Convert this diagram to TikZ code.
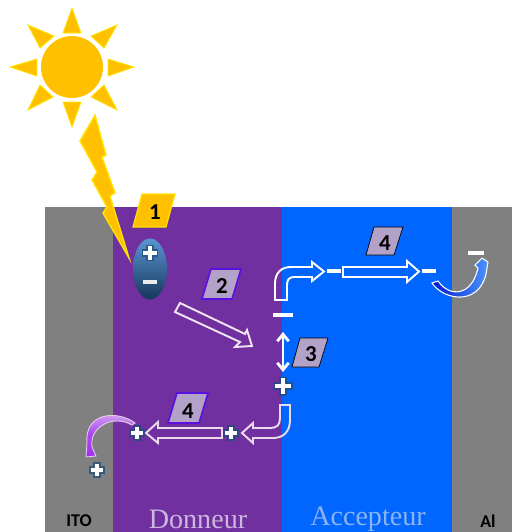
\documentclass[tikz,border=0pt]{standalone}
\usepackage{fontspec}
\usepackage{tikz}
\usetikzlibrary{shapes.geometric,arrows.meta}
\setmainfont{Liberation Serif}
\newfontfamily\labelfont[Ligatures=TeX]{Carlito}
\definecolor{sunyellow}{HTML}{FFC000}
\definecolor{donneurcol}{HTML}{7030A0}
\definecolor{accepteurcol}{HTML}{0066FF}
\definecolor{metalgray}{HTML}{808080}
\definecolor{badgegray}{HTML}{B3A2C7}
\definecolor{badgeedge}{HTML}{5A10E0}
\definecolor{glowcol}{HTML}{1F4E79}
\definecolor{ovaltop}{HTML}{5A96D2}
\definecolor{ovalmid}{HTML}{3F7FC0}
\definecolor{ovalbot}{HTML}{16365C}
\definecolor{paleviolet}{HTML}{D8B0F0}
\definecolor{brightviolet}{HTML}{A030F0}
\tikzset{
  ray/.style={fill=sunyellow,draw=yellow!75!sunyellow,line width=.5pt,line join=miter},
  bandlabel/.style={font=\fontsize{16}{16}\selectfont},
  metallabel/.style={font=\labelfont\bfseries\fontsize{10.2}{10}\selectfont,text=black},
  numlabel/.style={font=\labelfont\bfseries\fontsize{13}{13}\selectfont,text=black},
  blockarrow/.style={draw=white,line width=1.1pt,line join=miter},
  plainbadge/.style={fill=badgegray},
  edgebadge/.style={fill=badgegray,draw=badgeedge,line width=.9pt},
  chargeplus/.pic={
    \draw[glowcol,opacity=.75,line width=4.4pt] (-9.5,0) -- (9.5,0) (0,-9.5) -- (0,9.5);
    \draw[white,line width=1.9pt] (-8,0) -- (8,0) (0,-8) -- (0,8);
  },
  chargeminus/.pic={
    \draw[white,line width=2.1pt] (-10,0) -- (10,0);
  }
}
\begin{document}
\begin{tikzpicture}[x=0.02cm,y=-0.02cm]
  \useasboundingbox (0,0) rectangle (512,532);
  % bands
  \fill[metalgray] (45,207) rectangle (113,532);
  \fill[donneurcol] (113,207) rectangle (282,532);
  \fill[accepteurcol] (282,207) rectangle (452,532);
  \fill[metalgray] (452,207) rectangle (512,532);
  \node[metallabel] (ito) at (79,521) {ITO};
  \node[bandlabel,text=donneurcol!35!white] (donneur) at (198,519) {Donneur};
  \node[bandlabel,text=accepteurcol!45!white!90!gray] (accepteur) at (368,519) {Accepteur};
  \node[metallabel] (al) at (488,521) {Al};
  % sun
  \fill[sunyellow] (72,67) circle (31);
  \draw[ray] (72,8) -- (81,33) -- (63,33) -- cycle;
  \draw[ray] (72,127) -- (81,102) -- (63,102) -- cycle;
  \draw[ray] (10,67) -- (37,59) -- (37,76) -- cycle;
  \draw[ray] (134,67) -- (108,59) -- (108,76) -- cycle;
  \draw[ray] (28,25) -- (54,36) -- (40,48) -- cycle;
  \draw[ray] (117,25) -- (91,36) -- (104,48) -- cycle;
  \draw[ray] (28,110) -- (40,85) -- (53,97) -- cycle;
  \draw[ray] (117,110) -- (91,97) -- (104,85) -- cycle;
  % lightning
  \draw[ray,line width=.8pt] (95,115) -- (106,155) -- (102,157) -- (115,193) -- (110,196) -- (129,258) -- (103,213) -- (107,207) -- (92,180) -- (97,172) -- (80,141) -- cycle;
  % exciton
  \node[ellipse,minimum width=34*0.02cm,minimum height=61*0.02cm,inner sep=0pt,top color=ovaltop,middle color=ovalmid,bottom color=ovalbot] (exciton) at (150,269) {};
  \path (150,253) pic[scale=.85] {chargeplus};
  \draw[white!85!gray,line width=1.9pt] (143,282) -- (157,282);
  % badges
  \draw[fill=sunyellow,draw=yellow!70!sunyellow,line width=.7pt] (133,227) -- (142,194) -- (175,194) -- (166,227) -- cycle;
  \node[numlabel] (numa) at (155,212) {1};
  \draw[edgebadge] (202,299) -- (211,269) -- (241,269) -- (232,299) -- cycle;
  \node[numlabel] (numb) at (222,286) {2};
  \draw[plainbadge] (292,367) -- (300,338) -- (328,338) -- (319,367) -- cycle;
  \node[numlabel] (numc) at (311,354) {3};
  \draw[plainbadge] (366,255) -- (374,227) -- (403,227) -- (394,255) -- cycle;
  \node[numlabel] (numd) at (385,243) {4};
  \draw[edgebadge] (168,423) -- (177,393) -- (208,393) -- (199,423) -- cycle;
  \node[numlabel] (nume) at (188,411) {4};
  % diffusion arrow
  \draw[blockarrow,draw=white!90!violet] (175,312) -- (180,303) -- (245,334) -- (247,330) -- (252,346) -- (235,347) -- (240,342) -- cycle;
  % separation
  \draw[white,line width=1.6pt,{Straight Barb[length=4pt,width=6.5pt]}-{Straight Barb[length=4pt,width=6.5pt]}] (283,332) -- (283,372);
  % electron path
  \path (283,315) pic {chargeminus};
  \draw[blockarrow] (275,300) -- (275,284) .. controls (275,273) and (281,267) .. (291,267) -- (312,267) -- (312,262) -- (324,271.5) -- (312,281) -- (312,277) -- (294,277) .. controls (289,277) and (287,280) .. (287,285) -- (287,300) -- cycle;
  \path (334,271) pic[scale=.72] {chargeminus};
  \draw[blockarrow] (343,267) -- (407,267) -- (407,261) -- (419,271.5) -- (407,282) -- (407,277) -- (343,277) -- cycle;
  \path (429,271) pic[scale=.72] {chargeminus};
  \shadedraw[left color=blue!70!accepteurcol!80!black,right color=accepteurcol!70!white,draw=white,line width=.6pt] (432,283) .. controls (445,302) and (483,306) .. (487,268) -- (488,262) -- (482,258) -- (475,265) -- (478,268) .. controls (472,296) and (450,298) .. (438,281) -- cycle;
  \path (476,253) pic[scale=.8] {chargeminus};
  % hole path
  \path (283,386) pic {chargeplus};
  \draw[blockarrow,draw=white!85!violet] (280,405) -- (290,405) -- (290,420) .. controls (290,432) and (283,438) .. (273,438) -- (253,438) -- (253,443) -- (242,433) -- (253,423) -- (253,428) -- (270,428) .. controls (277,428) and (280,425) .. (280,418) -- cycle;
  \path (231,433) pic[scale=.8] {chargeplus};
  \draw[blockarrow,draw=white!85!violet] (222,428) -- (222,438) -- (158,438) -- (158,443) -- (146,433) -- (158,422) -- (158,428) -- cycle;
  \path (137,433) pic[scale=.8] {chargeplus};
  \shadedraw[top color=paleviolet,bottom color=brightviolet,middle color=brightviolet!80!paleviolet,draw=white!80!violet,line width=.5pt] (135,423) .. controls (118,410) and (84,412) .. (87,443) -- (86,457) -- (96,456) -- (92,447) .. controls (89,427) and (113,414) .. (132,425) -- cycle;
  \path (97,470) pic[scale=.8] {chargeplus};
\end{tikzpicture}
\end{document}
